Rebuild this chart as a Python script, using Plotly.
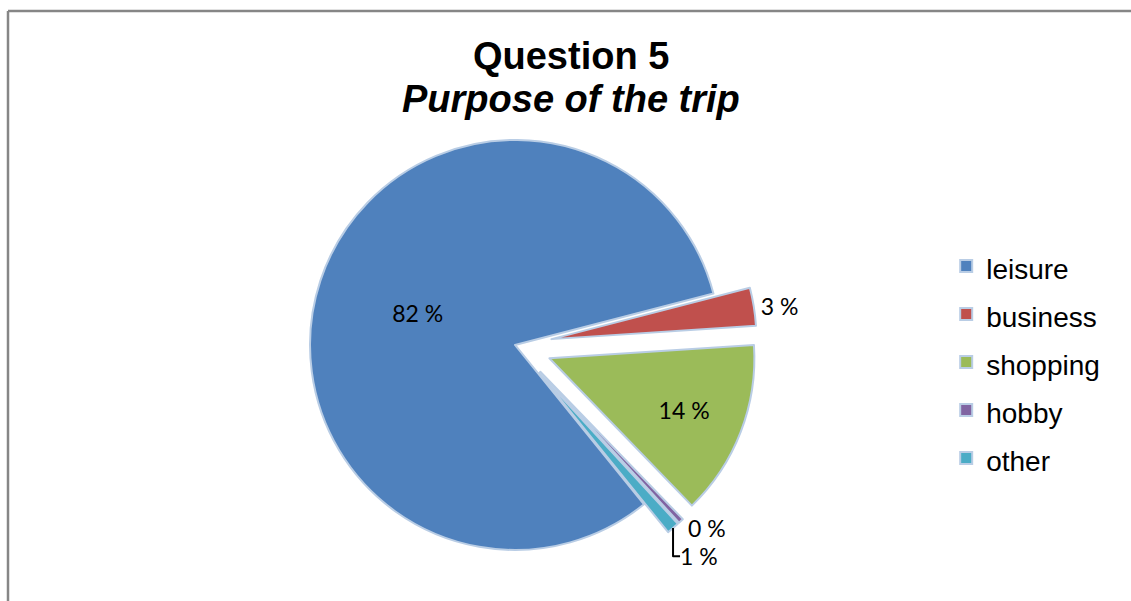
import plotly.graph_objects as go

# Survey answers (percent of respondents)
purposes = ["leisure", "business", "shopping", "hobby", "other"]
shares = [81.8, 3.0, 13.8, 0.4, 1.0]
slice_colors = ["#4f81bd", "#c0504d", "#9bbb59", "#8064a2", "#4bacc6"]
pulls = [0.0, 0.18, 0.18, 0.18, 0.18]
label_positions = ["inside", "outside", "inside", "outside", "outside"]

LEGEND_TEXT_PX = 28
legend_names = [f'<span style="font-size:{LEGEND_TEXT_PX}px">{p}</span>' for p in purposes]

fig = go.Figure(
    go.Pie(
        labels=legend_names,
        values=shares,
        sort=False,
        direction="clockwise",
        rotation=141,
        pull=pulls,
        marker=dict(colors=slice_colors, line=dict(color="#b9cde5", width=2)),
        texttemplate="%{value:.0f} %",
        textposition=label_positions,
        insidetextorientation="horizontal",
        textfont=dict(family="Lato", size=23, color="#000000"),
        domain=dict(x=[0.2415, 0.6692], y=[0.0235, 0.8285]),
        hovertemplate="%{label}: %{value} %<extra></extra>",
    )
)

frame_x = 8 / 1131
frame_y = 1 - 11 / 601

fig.update_layout(
    width=1131,
    height=601,
    margin=dict(l=0, r=0, t=0, b=0, autoexpand=False),
    paper_bgcolor="#ffffff",
    plot_bgcolor="#ffffff",
    title=dict(
        text="<b>Question 5</b>",
        font=dict(family="Liberation Sans", size=38, color="#000000"),
        x=0.505,
        xanchor="center",
        xref="paper",
        yref="container",
        y=1 - 56 / 601,
        yanchor="middle",
    ),
    annotations=[
        dict(
            text="<b><i>Purpose of the trip</i></b>",
            font=dict(family="Liberation Sans", size=38, color="#000000"),
            x=0.505,
            xref="paper",
            xanchor="center",
            y=1 - 99 / 601,
            yref="paper",
            yanchor="middle",
            showarrow=False,
        )
    ],
    legend=dict(
        font=dict(family="Liberation Sans", size=34.6, color="#000000"),
        x=0.8366,
        xanchor="left",
        y=1 - 237 / 601,
        yanchor="top",
        bgcolor="rgba(0,0,0,0)",
        itemwidth=30,
    ),
    shapes=[
        dict(type="line", xref="paper", yref="paper",
             x0=frame_x, x1=frame_x, y0=0, y1=frame_y,
             line=dict(color="#868686", width=2.5), layer="below"),
        dict(type="line", xref="paper", yref="paper",
             x0=frame_x, x1=1, y0=frame_y, y1=frame_y,
             line=dict(color="#868686", width=2.5), layer="below"),
    ],
)

fig.write_html("out.html")
